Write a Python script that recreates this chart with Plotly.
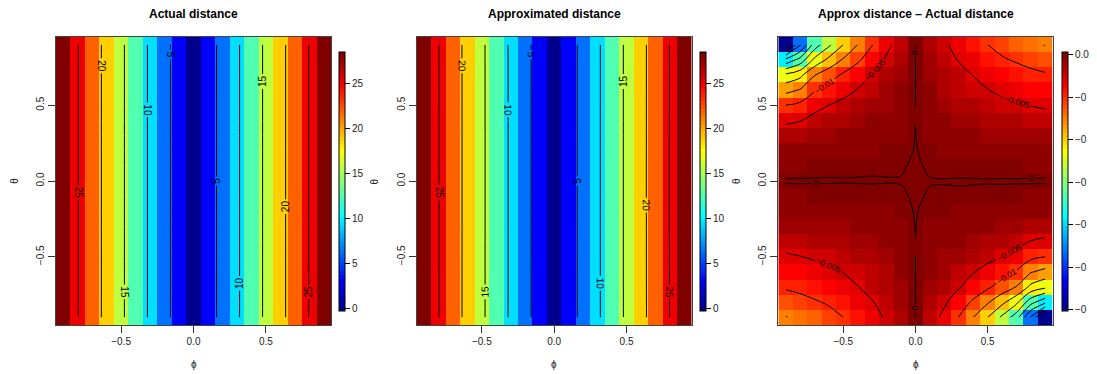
import numpy as np
import plotly.graph_objects as go

# ---------------- data ----------------
phi = [-0.9, -0.8, -0.7, -0.6, -0.5, -0.4, -0.3, -0.2, -0.1, 0.0,
       0.1, 0.2, 0.3, 0.4, 0.5, 0.6, 0.7, 0.8, 0.9]
theta = [-0.9, -0.8, -0.7, -0.6, -0.5, -0.4, -0.3, -0.2, -0.1, 0.0,
         0.1, 0.2, 0.3, 0.4, 0.5, 0.6, 0.7, 0.8, 0.9]

# actual distance for each phi column (same for every theta row)
actual_by_phi = [28.27, 25.13, 21.99, 18.85, 15.71, 12.57, 9.42, 6.28, 3.14, 0.00,
                 3.14, 6.28, 9.42, 12.57, 15.71, 18.85, 21.99, 25.13, 28.27]

# approx - actual, rows listed from theta = 0.9 (top) down to theta = -0.9 (bottom)
diff_rows_top_down = [
    [-0.0598, -0.0460, -0.0330, -0.0260, -0.0200, -0.0150, -0.0102, -0.0061, -0.0032, 0.0, -0.0022, -0.0045, -0.0063, -0.0082, -0.0100, -0.0115, -0.0128, -0.0141, -0.0152],
    [-0.0390, -0.0333, -0.0239, -0.0188, -0.0145, -0.0108, -0.0074, -0.0044, -0.0023, 0.0, -0.0018, -0.0037, -0.0052, -0.0067, -0.0082, -0.0095, -0.0105, -0.0116, -0.0125],
    [-0.0240, -0.0214, -0.0153, -0.0121, -0.0093, -0.0070, -0.0047, -0.0028, -0.0015, 0.0, -0.0014, -0.0028, -0.0039, -0.0051, -0.0063, -0.0072, -0.0080, -0.0088, -0.0095],
    [-0.0165, -0.0147, -0.0105, -0.0083, -0.0064, -0.0048, -0.0033, -0.0019, -0.0010, 0.0, -0.0011, -0.0022, -0.0031, -0.0040, -0.0049, -0.0057, -0.0063, -0.0070, -0.0075],
    [-0.0100, -0.0089, -0.0064, -0.0050, -0.0039, -0.0029, -0.0020, -0.0012, -0.0006, 0.0, -0.0008, -0.0016, -0.0023, -0.0030, -0.0036, -0.0042, -0.0046, -0.0051, -0.0055],
    [-0.0058, -0.0052, -0.0037, -0.0029, -0.0022, -0.0017, -0.0011, -0.0007, -0.0004, -0.000005, -0.0005, -0.0010, -0.0014, -0.0019, -0.0023, -0.0026, -0.0029, -0.0032, -0.0035],
    [-0.0029, -0.0026, -0.0018, -0.0015, -0.0011, -0.0008, -0.0006, -0.0003, -0.0002, 0.00001, -0.0003, -0.0006, -0.0008, -0.0010, -0.0013, -0.0014, -0.0016, -0.0018, -0.0019],
    [-0.0011, -0.0010, -0.0007, -0.0006, -0.0004, -0.0003, -0.0002, -0.0001, -0.0001, 0.00002, -0.0001, -0.0002, -0.0003, -0.0004, -0.0005, -0.0006, -0.0007, -0.0007, -0.0008],
    [-0.00020, -0.00018, -0.00013, -0.00010, -0.00008, -0.00006, -0.00004, -0.00003, -0.00002, 0.00003, -0.00003, -0.00006, -0.00008, -0.00010, -0.00013, -0.00015, -0.00017, -0.00018, -0.00020],
    [0.00004, 0.00004, 0.00003, 0.00003, 0.00002, 0.00002, 0.00002, 0.00001, 0.00001, 0.0003, 0.00001, 0.00001, 0.00002, 0.00002, 0.00002, 0.00003, 0.00003, 0.00004, 0.00004],
    [-0.00020, -0.00018, -0.00017, -0.00015, -0.00013, -0.00010, -0.00008, -0.00006, -0.00003, 0.00003, -0.00002, -0.00003, -0.00004, -0.00006, -0.00008, -0.00010, -0.00013, -0.00018, -0.00020],
    [-0.0008, -0.0007, -0.0007, -0.0006, -0.0005, -0.0004, -0.0003, -0.0002, -0.0001, 0.00002, -0.0001, -0.0001, -0.0002, -0.0003, -0.0004, -0.0006, -0.0007, -0.0010, -0.0011],
    [-0.0019, -0.0018, -0.0016, -0.0014, -0.0013, -0.0010, -0.0008, -0.0006, -0.0003, 0.00001, -0.0002, -0.0003, -0.0006, -0.0008, -0.0011, -0.0015, -0.0018, -0.0026, -0.0029],
    [-0.0035, -0.0032, -0.0029, -0.0026, -0.0023, -0.0019, -0.0014, -0.0010, -0.0005, -0.000005, -0.0004, -0.0007, -0.0011, -0.0017, -0.0022, -0.0029, -0.0037, -0.0052, -0.0058],
    [-0.0055, -0.0051, -0.0046, -0.0042, -0.0036, -0.0030, -0.0023, -0.0016, -0.0008, 0.0, -0.0006, -0.0012, -0.0020, -0.0029, -0.0039, -0.0050, -0.0064, -0.0089, -0.0100],
    [-0.0075, -0.0070, -0.0063, -0.0057, -0.0049, -0.0040, -0.0031, -0.0022, -0.0011, 0.0, -0.0010, -0.0019, -0.0033, -0.0048, -0.0064, -0.0083, -0.0105, -0.0147, -0.0165],
    [-0.0095, -0.0088, -0.0080, -0.0072, -0.0063, -0.0051, -0.0039, -0.0028, -0.0014, 0.0, -0.0015, -0.0028, -0.0047, -0.0070, -0.0093, -0.0121, -0.0153, -0.0214, -0.0240],
    [-0.0125, -0.0116, -0.0105, -0.0095, -0.0082, -0.0067, -0.0052, -0.0037, -0.0018, 0.0, -0.0023, -0.0044, -0.0074, -0.0108, -0.0145, -0.0188, -0.0239, -0.0333, -0.0390],
    [-0.0152, -0.0141, -0.0128, -0.0115, -0.0100, -0.0082, -0.0063, -0.0045, -0.0022, 0.0, -0.0032, -0.0061, -0.0102, -0.0150, -0.0200, -0.0260, -0.0330, -0.0460, -0.0598],
]

titles = ["Actual distance", "Approximated distance", "Approx distance \u2013 Actual distance"]
axis_ticks = [-0.5, 0.0, 0.5]
axis_ticktext = ["\u22120.5", "0.0", "0.5"]
dist_cbar_ticks = [0, 5, 10, 15, 20, 25]
diff_cbar_ticks = [0.0, -0.01, -0.02, -0.03, -0.04, -0.05, -0.06]
diff_cbar_text = ["0.0", "\u22120", "\u22120", "\u22120", "\u22120", "\u22120", "\u22120"]

# tim.colors(64)
TIM = ["#00008F", "#00009F", "#0000AF", "#0000BF", "#0000CF", "#0000DF", "#0000EF", "#0000FF",
       "#0010FF", "#0020FF", "#0030FF", "#0040FF", "#0050FF", "#0060FF", "#0070FF", "#0080FF",
       "#008FFF", "#009FFF", "#00AFFF", "#00BFFF", "#00CFFF", "#00DFFF", "#00EFFF", "#00FFFF",
       "#10FFEF", "#20FFDF", "#30FFCF", "#40FFBF", "#50FFAF", "#60FF9F", "#70FF8F", "#80FF80",
       "#8FFF70", "#9FFF60", "#AFFF50", "#BFFF40", "#CFFF30", "#DFFF20", "#EFFF10", "#FFFF00",
       "#FFEF00", "#FFDF00", "#FFCF00", "#FFBF00", "#FFAF00", "#FF9F00", "#FF8F00", "#FF8000",
       "#FF7000", "#FF6000", "#FF5000", "#FF4000", "#FF3000", "#FF2000", "#FF1000", "#FF0000",
       "#EF0000", "#DF0000", "#CF0000", "#BF0000", "#AF0000", "#9F0000", "#8F0000", "#800000"]

# ---------------- build ----------------
n = len(TIM)
scale = []
for i, c in enumerate(TIM):
    scale.append([i / n, c])
    scale.append([(i + 1) / n, c])

z_diff = np.array(diff_rows_top_down)[::-1]          # rows now follow ascending theta
z_actual = np.tile(np.array(actual_by_phi), (len(theta), 1))
z_approx = z_actual + z_diff

W, H = 1097, 374
FONT = "Liberation Sans, Arial, Helvetica, sans-serif"
plot_x = [(56.0, 331.0), (416.7, 691.7), (778.3, 1052.7)]
plot_top, plot_bot = 37.0, 325.0
cbar_left = [339.3, 700.3, 1061.7]
cbar_top, cbar_bot = 51.6, 310.6

panels = [
    (z_actual, dict(start=5, end=25, size=5), dist_cbar_ticks, None, 10),
    (z_approx, dict(start=5, end=25, size=5), dist_cbar_ticks, None, 10),
    (z_diff, dict(start=-0.06, end=0.0, size=0.005), diff_cbar_ticks, diff_cbar_text, 8.5),
]

fig = go.Figure()
annotations = []
for k, (Z, cont, cticks, ctext, lab_size) in enumerate(panels):
    ax = "" if k == 0 else str(k + 1)
    lo, hi = float(np.min(Z)), float(np.max(Z))
    half = (hi - lo) / 126.0
    cb = dict(
        x=cbar_left[k] / W, xanchor="left", xpad=0,
        y=1 - (cbar_top + cbar_bot) / 2 / H, yanchor="middle", ypad=0,
        len=cbar_bot - cbar_top, lenmode="pixels",
        thickness=6, thicknessmode="pixels",
        outlinecolor="black", outlinewidth=1,
        ticks="outside", ticklen=5, tickcolor="black", tickwidth=1,
        tickvals=cticks,
        tickfont=dict(family=FONT, size=10, color="#222"),
    )
    if ctext is not None:
        cb["ticktext"] = ctext
    fig.add_trace(go.Heatmap(
        x=phi, y=theta, z=Z, colorscale=scale,
        zmin=lo - half, zmax=hi + half, zsmooth=False,
        colorbar=cb, xaxis="x" + ax, yaxis="y" + ax, hoverinfo="skip",
    ))
    fig.add_trace(go.Contour(
        x=phi, y=theta, z=Z, showscale=False,
        contours=dict(coloring="none", showlabels=True,
                      labelfont=dict(family=FONT, size=lab_size, color="black"), **cont),
        line=dict(color="black", width=1),
        xaxis="x" + ax, yaxis="y" + ax, hoverinfo="skip",
    ))

    x0, x1 = plot_x[k]
    common = dict(range=[-0.95, 0.95], showgrid=False, zeroline=False,
                  showline=True, mirror=True, linecolor="#444", linewidth=1,
                  ticks="outside", ticklen=7, tickcolor="#333", tickwidth=1,
                  tickvals=axis_ticks, ticktext=axis_ticktext,
                  tickfont=dict(family=FONT, size=10, color="#222"), fixedrange=True)
    fig.update_layout(**{
        "xaxis" + ax: dict(domain=[x0 / W, x1 / W], anchor="y" + ax, **common),
        "yaxis" + ax: dict(domain=[1 - plot_bot / H, 1 - plot_top / H], anchor="x" + ax,
                           tickangle=-90, **common),
    })
    cx = (x0 + x1) / 2 / W
    annotations.append(dict(text="<b>" + titles[k] + "</b>", x=cx, y=1 - 14 / H,
                            xref="paper", yref="paper", showarrow=False,
                            xanchor="center", yanchor="middle",
                            font=dict(family=FONT, size=12, color="black")))
    annotations.append(dict(text="\u03d5", x=cx, y=1 - 364 / H, xref="paper", yref="paper",
                            showarrow=False, xanchor="center", yanchor="middle",
                            font=dict(family=FONT, size=10, color="#222")))
    annotations.append(dict(text="\u03b8", x=(x0 - 41.3) / W, y=1 - 181 / H,
                            xref="paper", yref="paper", showarrow=False, textangle=-90,
                            xanchor="center", yanchor="middle",
                            font=dict(family=FONT, size=10, color="#222")))

fig.update_layout(width=W, height=H, autosize=False,
                  margin=dict(l=0, r=0, t=0, b=0),
                  paper_bgcolor="white", plot_bgcolor="white",
                  showlegend=False, annotations=annotations)

fig.write_html("out.html", config={"displayModeBar": False},
               post_script="document.body.style.margin='0px';document.body.style.overflow='hidden';")
